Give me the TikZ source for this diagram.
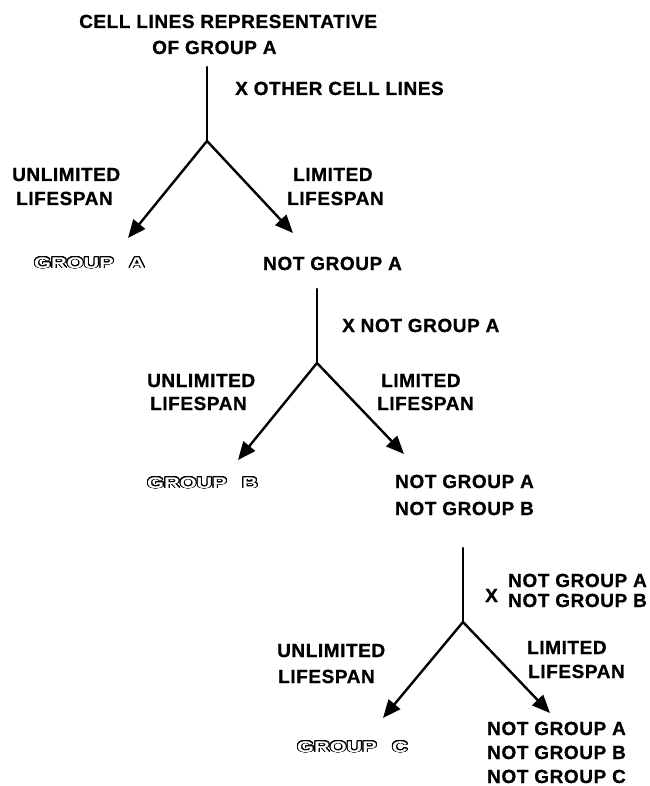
\documentclass[tikz,border=0pt]{standalone}
\usepackage{fontspec}
\setmainfont{Liberation Sans}[LetterSpace=3, BoldFeatures={FakeBold=0.8}]
\newfontfamily\outfont{Liberation Sans}
\usepackage{contour}
\contourlength{0.7pt}
\contournumber{24}
\usetikzlibrary{arrows.meta}
\newcommand{\outlined}[1]{\scalebox{1.4}[1]{\contour{black}{\textcolor{white}{GROUP\hspace{11pt}#1}}}}
\begin{document}
\begin{tikzpicture}[x=1pt,y=-1pt,
  lbl/.style={font=\fontsize{19}{22}\selectfont\bfseries, inner sep=0pt, anchor=base west},
  grp/.style={font=\outfont\fontsize{15.5}{18}\selectfont\bfseries, inner sep=0pt, anchor=base west},
  ln/.style={line width=2.4pt, line cap=round},
  arr/.style={line width=2.4pt, -{Triangle[length=18pt,width=15pt]}}]
\useasboundingbox[fill=white] (0,0) rectangle (649,786);

% ---------- level 1 ----------
\node[lbl] (t1) at (79,28) {CELL LINES REPRESENTATIVE};
\node[lbl] (t2) at (152,54) {OF GROUP A};
\coordinate (v1a) at (207,67);
\coordinate (v1b) at (207,141);
\draw[ln] (v1a) -- (v1b);
\node[lbl] (x1) at (235,95) {X OTHER CELL LINES};
\coordinate (l1) at (128,238);
\coordinate (r1) at (293,233);
\draw[arr] (v1b) -- (l1);
\draw[arr] (v1b) -- (r1);
\node[lbl] (u1a) at (12,181) {UNLIMITED};
\node[lbl] (u1b) at (16,205) {LIFESPAN};
\node[lbl] (m1a) at (293,181) {LIMITED};
\node[lbl] (m1b) at (287,205) {LIFESPAN};
\node[grp] (g1) at (34,268) {\outlined{A}};
\node[lbl] (n1) at (263,270) {NOT GROUP A};

% ---------- level 2 ----------
\coordinate (v2a) at (317,289);
\coordinate (v2b) at (317,363);
\draw[ln] (v2a) -- (v2b);
\node[lbl] (x2) at (342,332) {X NOT GROUP A};
\coordinate (l2) at (238,460);
\coordinate (r2) at (404,454);
\draw[arr] (v2b) -- (l2);
\draw[arr] (v2b) -- (r2);
\node[lbl] (u2a) at (147,387) {UNLIMITED};
\node[lbl] (u2b) at (150,410) {LIFESPAN};
\node[lbl] (m2a) at (381,387) {LIMITED};
\node[lbl] (m2b) at (377,410) {LIFESPAN};
\node[grp] (g2) at (147,488) {\outlined{B}};
\node[lbl] (n2a) at (395,488) {NOT GROUP A};
\node[lbl] (n2b) at (395,515) {NOT GROUP B};

% ---------- level 3 ----------
\coordinate (v3a) at (463,548);
\coordinate (v3b) at (463,622);
\draw[ln] (v3a) -- (v3b);
\node[lbl] (x3) at (485,602) {X};
\node[lbl] (x3a) at (508,587) {NOT GROUP A};
\node[lbl] (x3b) at (508,607) {NOT GROUP B};
\coordinate (l3) at (383,718);
\coordinate (r3) at (550,713);
\draw[arr] (v3b) -- (l3);
\draw[arr] (v3b) -- (r3);
\node[lbl] (u3a) at (277,657) {UNLIMITED};
\node[lbl] (u3b) at (278,683) {LIFESPAN};
\node[lbl] (m3a) at (527,654) {LIMITED};
\node[lbl] (m3b) at (528,678) {LIFESPAN};
\node[grp] (g3) at (297,752) {\outlined{C}};
\node[lbl] (n3a) at (487,735) {NOT GROUP A};
\node[lbl] (n3b) at (487,759) {NOT GROUP B};
\node[lbl] (n3c) at (487,783) {NOT GROUP C};
\end{tikzpicture}
\end{document}
